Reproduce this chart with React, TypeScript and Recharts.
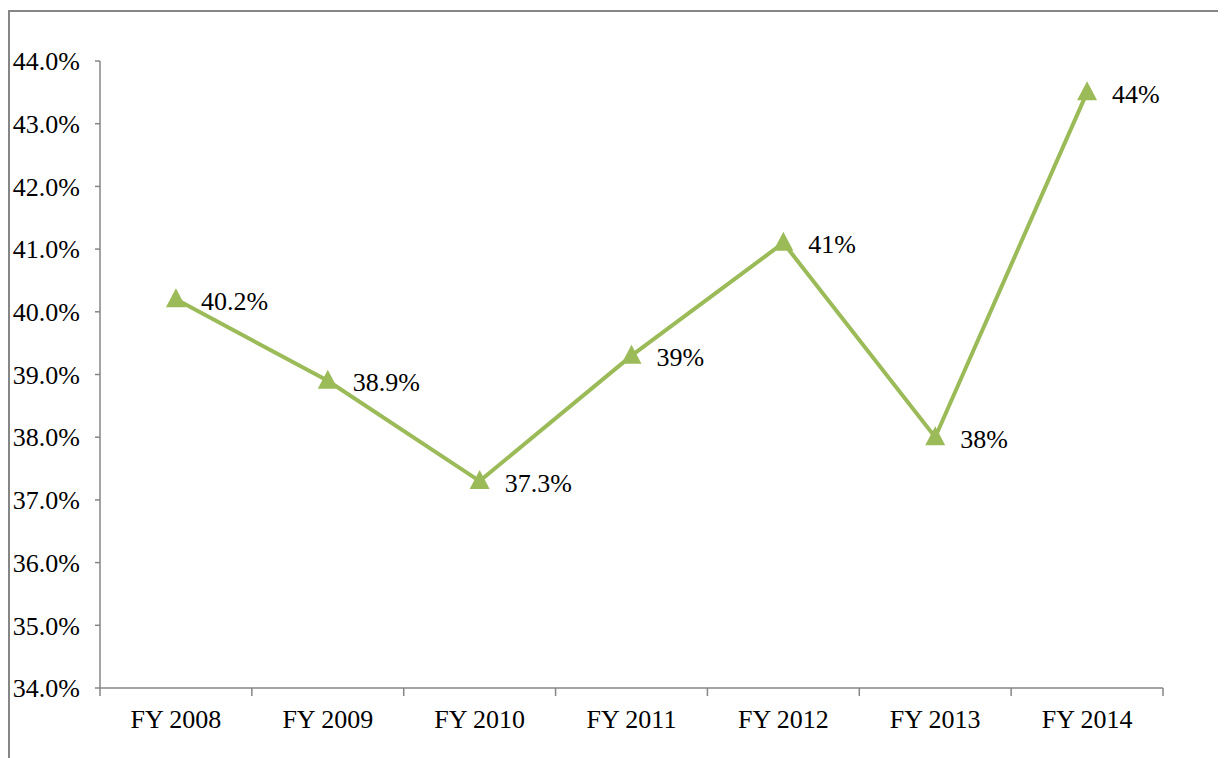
import { LineChart, Line, XAxis, YAxis, LabelList } from "recharts"

const categories = ["FY 2008", "FY 2009", "FY 2010", "FY 2011", "FY 2012", "FY 2013", "FY 2014"]
const rates = [40.2, 38.9, 37.3, 39.3, 41.1, 38.0, 43.5]
const rateLabels = ["40.2%", "38.9%", "37.3%", "39%", "41%", "38%", "44%"]
const yTicks = [34, 35, 36, 37, 38, 39, 40, 41, 42, 43, 44]

// x positions are band centres (i + 0.5) on a 0..7 numeric axis, so tick marks can sit on band edges
const data = categories.map((name, i) => ({ pos: i + 0.5, name, rate: rates[i], label: rateLabels[i] }))
const xTicks: number[] = []
for (let i = 0; i <= categories.length * 2; i++) xTicks.push(i / 2)

const FONT = "'Liberation Serif', 'Times New Roman', serif"
const GREEN = "#9BBB59"
const AXIS = "#868686"

function XTick(props: any) {
  const { x, y, payload } = props
  const v = payload.value as number
  if (Number.isInteger(v)) {
    return <line x1={x} x2={x} y1={y - 8} y2={y} stroke={AXIS} strokeWidth={1.5} />
  }
  const name = categories[Math.floor(v)]
  return (
    <text x={x} y={y + 23} textAnchor="middle" dominantBaseline="central" fontFamily={FONT} fontSize={26} fill="#000">
      {name}
    </text>
  )
}

function Triangle(props: any) {
  const { cx, cy } = props
  if (cx == null || cy == null) return null
  return <path d={`M${cx},${cy - 11} L${cx + 10},${cy + 8} L${cx - 10},${cy + 8} Z`} fill={GREEN} />
}

function RateLabel(props: any) {
  const { x, y, value } = props
  return (
    <text x={x + 25} y={y + 2} dominantBaseline="central" fontFamily={FONT} fontSize={26} fill="#000">
      {value}
    </text>
  )
}

export default function App() {
  return (
    <div style={{ marginTop: 2, borderTop: `2px solid ${AXIS}`, borderLeft: `2px solid ${AXIS}`, width: 1216, height: 746 }}>
      <LineChart width={1216} height={746} data={data} margin={{ top: 49, right: 63, left: 20, bottom: 10 }}>
        <XAxis
          dataKey="pos"
          type="number"
          domain={[0, categories.length]}
          ticks={xTicks}
          interval={0}
          tickLine={false}
          tickSize={8}
          tickMargin={0}
          tick={<XTick />}
          height={60}
          axisLine={{ stroke: AXIS, strokeWidth: 1.5 }}
        />
        <YAxis
          domain={[34, 44]}
          ticks={yTicks}
          interval={0}
          width={70}
          tickSize={5}
          tickMargin={15}
          tickFormatter={(v: number) => v.toFixed(1) + "%"}
          tick={{ fontFamily: FONT, fontSize: 26, fill: "#000" }}
          tickLine={{ stroke: AXIS, strokeWidth: 1.5 }}
          axisLine={{ stroke: AXIS, strokeWidth: 1.5 }}
        />
        <Line
          dataKey="rate"
          stroke={GREEN}
          strokeWidth={4}
          dot={<Triangle />}
          activeDot={false}
          isAnimationActive={false}
        >
          <LabelList dataKey="label" content={<RateLabel />} />
        </Line>
      </LineChart>
    </div>
  )
}
